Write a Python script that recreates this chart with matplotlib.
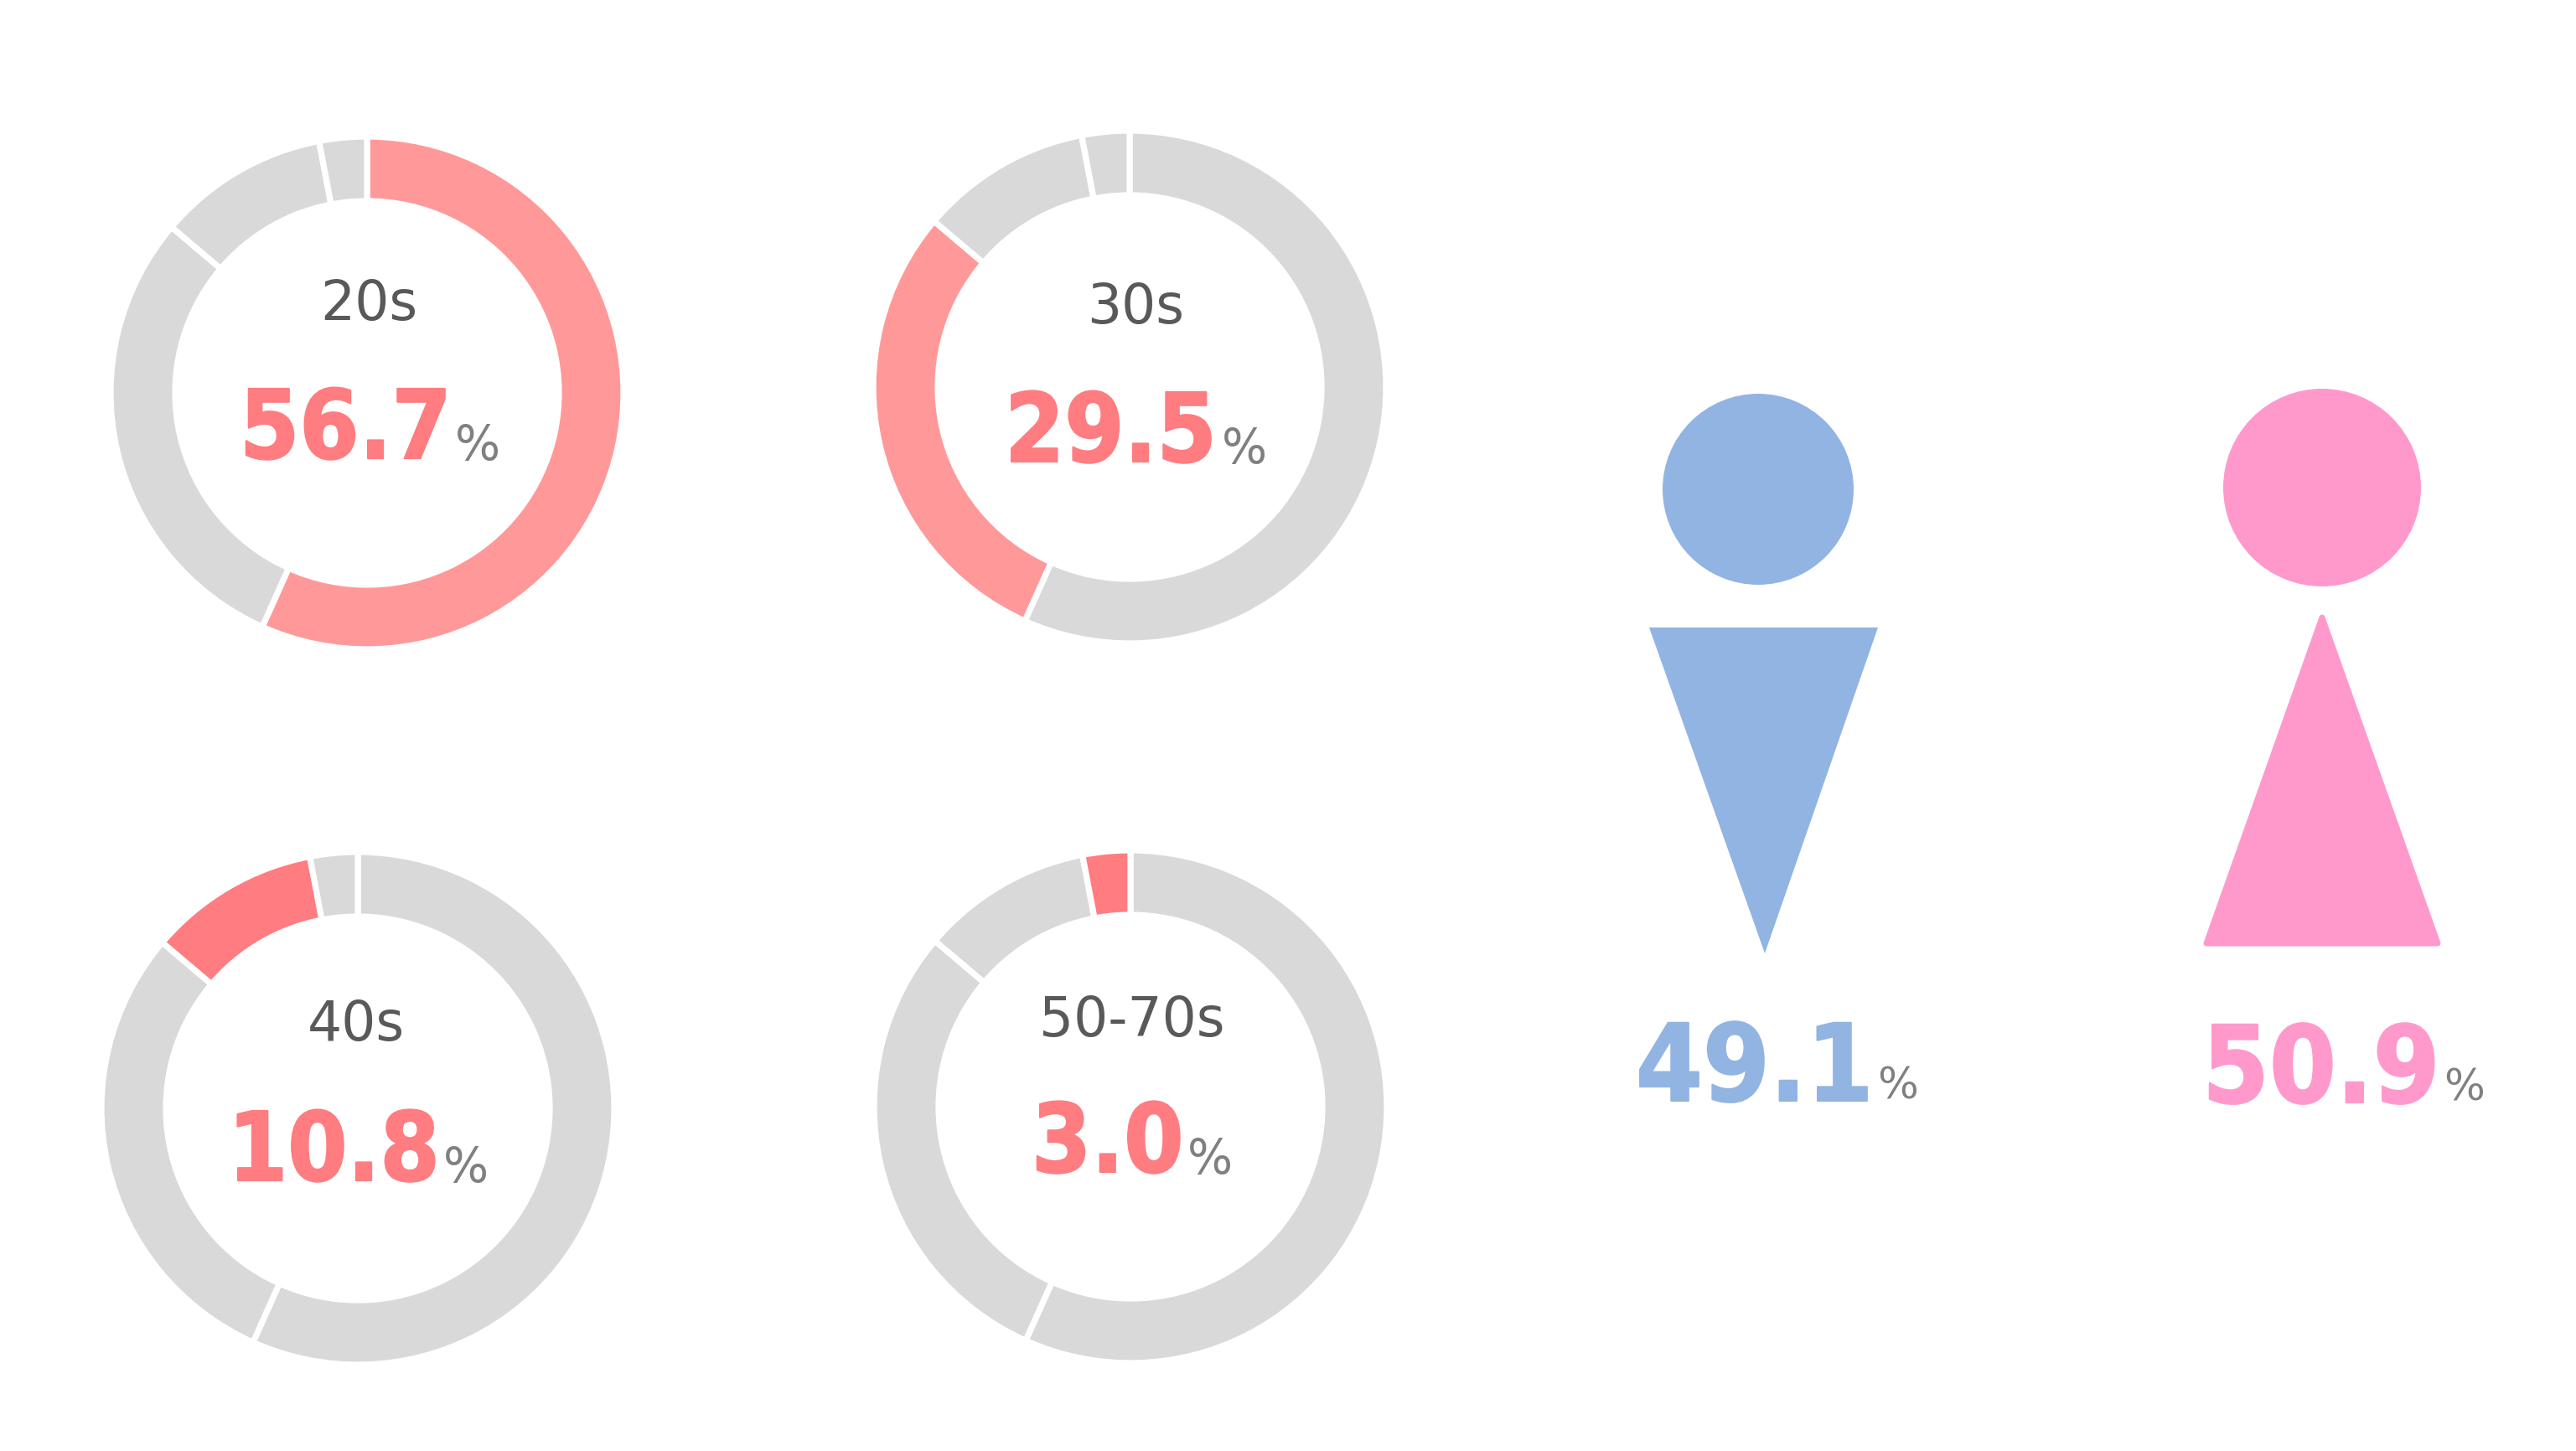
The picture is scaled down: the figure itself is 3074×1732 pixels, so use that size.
"""
Age and gender share infographic: four donuts plus two pictograms.
"""
import matplotlib
matplotlib.use("Agg")
import matplotlib.pyplot as plt
import matplotlib.patheffects as pe
from matplotlib import font_manager as fm
from matplotlib.patches import Circle, Polygon

# ── Data ──────────────────────────────────────────────────────────────────────
AGE_LABELS = ["20s", "30s", "40s", "50-70s"]
AGE_SHARES = [56.7, 29.5, 10.8, 3.0]
GENDER_LABELS = ["male", "female"]
GENDER_SHARES = [49.1, 50.9]

# ── Style ─────────────────────────────────────────────────────────────────────
W, H = 3074, 1733
DPI = 200
GREY = "#d9d9d9"
SLICE_COLORS = ["#ff9999", "#ff9999", "#ff7c80", "#ff7c80"]
PCT_RED = "#ff7c80"
BLUE = "#92b4e3"
PINK = "#ff99cc"

# pixel layout: donut centre, label centre, number left/baseline, % left
DONUT_POS = [
    dict(c=(438, 470), label=(440, 364), num=(286, 548), pct=(543, 549)),
    dict(c=(1348, 463), label=(1355, 368), num=(1199, 552), pct=(1458, 553)),
    dict(c=(427, 1324), label=(425, 1224), num=(272, 1410), pct=(529, 1411)),
    dict(c=(1349, 1322), label=(1351, 1219), num=(1231, 1400), pct=(1417, 1401)),
]
R_OUT = 306
R_IN = 229

# condensed bold if the system has it, regular bold otherwise
_cond = fm.FontProperties(family="DejaVu Sans", weight="bold", stretch="condensed")
HAS_COND = "condensed" in fm.findfont(_cond).lower()
NUM_KW = dict(fontweight="bold", fontstretch="condensed") if HAS_COND else dict(fontweight="bold")
NUM_SCALE = 1.0 if HAS_COND else 0.9


def heavy(color):
    # reference digits are a touch heavier than the plain font
    return [pe.withStroke(linewidth=0.8, foreground=color)]


def draw_donut(fig, overlay, idx):
    pos = DONUT_POS[idx]
    cx, cy = pos["c"]
    pad = R_OUT + 10
    ax = fig.add_axes([(cx - pad) / W, 1 - (cy + pad) / H, 2 * pad / W, 2 * pad / H])
    colors = [GREY] * len(AGE_SHARES)
    colors[idx] = SLICE_COLORS[idx]
    ax.pie(AGE_SHARES, colors=colors, startangle=90, counterclock=False,
           radius=R_OUT / pad,
           wedgeprops=dict(width=(R_OUT - R_IN) / pad, edgecolor="white", linewidth=2.6))
    ax.set_xlim(-1, 1)
    ax.set_ylim(-1, 1)
    ax.set_aspect("equal")

    overlay.text(*pos["label"], AGE_LABELS[idx], fontsize=23.3, color="#595959",
                 ha="center", va="center")
    overlay.text(*pos["num"], f"{AGE_SHARES[idx]:.1f}", fontsize=41 * NUM_SCALE, color=PCT_RED,
                 ha="left", va="baseline", path_effects=heavy(PCT_RED), **NUM_KW)
    overlay.text(*pos["pct"], "%", fontsize=20.5, color="#808080", ha="left", va="baseline")


def main():
    fig = plt.figure(figsize=(W / DPI, H / DPI), dpi=DPI, facecolor="white")

    # overlay in pixel coords for the text and pictograms
    overlay = fig.add_axes([0, 0, 1, 1], zorder=5)
    overlay.set_xlim(0, W)
    overlay.set_ylim(H, 0)
    overlay.axis("off")

    for i in range(len(AGE_LABELS)):
        draw_donut(fig, overlay, i)

    # man
    overlay.add_patch(Circle((2098, 585), 114, fc=BLUE, ec="none"))
    overlay.add_patch(Polygon([(1968, 750), (2241, 750), (2106, 1139)], fc=BLUE, ec="none"))
    overlay.text(1952, 1315, f"{GENDER_SHARES[0]:.1f}", fontsize=46 * NUM_SCALE, color=BLUE,
                 ha="left", va="baseline", path_effects=heavy(BLUE), **NUM_KW)
    overlay.text(2240, 1312, "%", fontsize=18.5, color="#808080", ha="left", va="baseline")

    # woman
    overlay.add_patch(Circle((2771, 583), 118, fc=PINK, ec="none"))
    overlay.add_patch(Polygon([(2771, 738), (2633, 1127), (2909, 1127)], fc=PINK, ec=PINK,
                              lw=2.5, joinstyle="round"))
    overlay.text(2628, 1317, f"{GENDER_SHARES[1]:.1f}", fontsize=46 * NUM_SCALE, color=PINK,
                 ha="left", va="baseline", path_effects=heavy(PINK), **NUM_KW)
    overlay.text(2916, 1314, "%", fontsize=18.5, color="#808080", ha="left", va="baseline")

    fig.savefig("out.png", dpi=DPI)


if __name__ == "__main__":
    main()
